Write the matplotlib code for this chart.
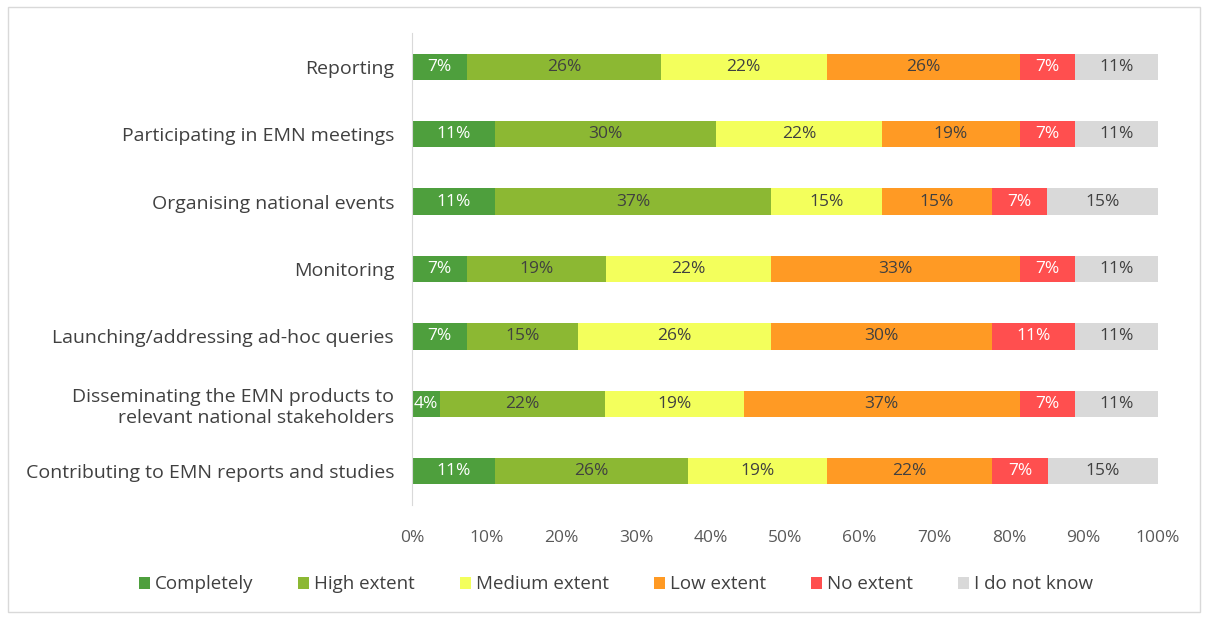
import matplotlib.pyplot as plt
import numpy as np
from matplotlib.patches import Rectangle
from matplotlib.ticker import FuncFormatter

CATEGORIES = [
    "Reporting",
    "Participating in EMN meetings",
    "Organising national events",
    "Monitoring",
    "Launching/addressing ad-hoc queries",
    "Disseminating the EMN products to\nrelevant national stakeholders",
    "Contributing to EMN reports and studies",
]
SERIES = ["Completely", "High extent", "Medium extent", "Low extent", "No extent", "I do not know"]

# shares in %, one list per answer (order follows CATEGORIES)
completely = [7.41, 11.11, 11.11, 7.41, 7.41, 3.70, 11.11]
high_extent = [25.93, 29.63, 37.04, 18.52, 14.81, 22.22, 25.93]
medium_extent = [22.22, 22.22, 14.81, 22.22, 25.93, 18.52, 18.52]
low_extent = [25.93, 18.52, 14.81, 33.33, 29.63, 37.04, 22.22]
no_extent = [7.41, 7.41, 7.41, 7.41, 11.11, 7.41, 7.41]
do_not_know = [11.11, 11.11, 14.81, 11.11, 11.11, 11.11, 14.81]

COLORS = ["#4E9F3D", "#8CB833", "#F3FF5C", "#FF9A24", "#FF4F4F", "#D9D9D9"]
TEXT_COLORS = ["white", "#404040", "#404040", "#404040", "white", "#404040"]

plt.rcParams["font.family"] = ["Open Sans", "DejaVu Sans"]

fig = plt.figure(figsize=(12.05, 6.17), dpi=100)
ax = fig.add_axes([0.342, 0.1815, 0.619, 0.765])

values = np.array([completely, high_extent, medium_extent, low_extent, no_extent, do_not_know])
y = np.arange(len(CATEGORIES))
left = np.zeros(len(CATEGORIES))
for i, name in enumerate(SERIES):
    ax.barh(y, values[i], left=left, height=0.39, color=COLORS[i], label=name)
    for j, v in enumerate(values[i]):
        ax.text(left[j] + v / 2, y[j], f"{v:.0f}%", ha="center", va="center",
                fontsize=12.5, color=TEXT_COLORS[i])
    left += values[i]

ax.set_xlim(0, 100)
ax.set_ylim(len(CATEGORIES) - 0.5, -0.5)
ax.set_yticks(y)
ax.set_yticklabels(CATEGORIES, fontsize=14, color="#404040")
ax.set_xticks(np.arange(0, 101, 10))
ax.xaxis.set_major_formatter(FuncFormatter(lambda v, _: f"{v:.0f}%"))
ax.tick_params(axis="x", labelsize=12.5, colors="#595959", length=0, pad=18)
ax.tick_params(axis="y", length=0, pad=13)
for side in ["top", "right", "bottom"]:
    ax.spines[side].set_visible(False)
ax.spines["left"].set_color("#D9D9D9")

leg = ax.legend(loc="center", ncol=6, frameon=False, fontsize=13.5,
                handlelength=0.6, handleheight=0.6, handletextpad=0.25,
                columnspacing=2.4, labelcolor="#404040")
leg.set_bbox_to_anchor((0.511, 0.053), transform=fig.transFigure)

fig.patches.append(Rectangle((0.0066, 0.008), 0.989, 0.981, transform=fig.transFigure,
                             fill=False, edgecolor="#D9D9D9", linewidth=1))

fig.savefig("out.png", dpi=100)
